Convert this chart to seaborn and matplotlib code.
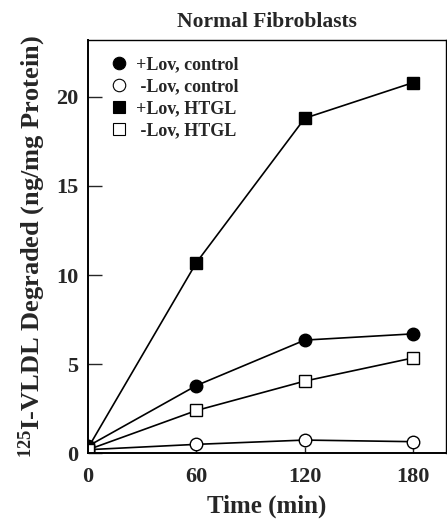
import matplotlib
matplotlib.use('Agg')
import matplotlib.pyplot as plt
import seaborn as sns
from matplotlib.lines import Line2D

time = [0, 60, 120, 180]
lov_control = [0.4, 3.8, 6.35, 6.7]
nolov_control = [0.2, 0.5, 0.74, 0.65]
lov_htgl = [0.3, 10.7, 18.8, 20.8]
nolov_htgl = [0.2, 2.4, 4.05, 5.35]

labels = ['+Lov, control', ' -Lov, control', '+Lov, HTGL', ' -Lov, HTGL']
series = [lov_control, nolov_control, lov_htgl, nolov_htgl]
markers = ['o', 'o', 's', 's']
faces = ['black', 'white', 'black', 'white']

sns.set_style('ticks')
plt.rcParams['font.family'] = ['Liberation Serif', 'DejaVu Serif']
plt.rcParams['font.weight'] = 'bold'
plt.rcParams['mathtext.default'] = 'regular'

fig = plt.figure(figsize=(4.47, 5.24), dpi=100)
ax = fig.add_axes([0.197, 0.135, 0.80, 0.789])

for vals, m, fc in zip(series, markers, faces):
    sns.lineplot(x=time, y=vals, ax=ax, color='black', linewidth=1.2,
                 marker=m, markersize=9, markerfacecolor=fc,
                 markeredgecolor='black', markeredgewidth=1.0)

handles = [Line2D([], [], linestyle='none', marker=m, markersize=9,
                  markerfacecolor=fc, markeredgecolor='black', markeredgewidth=0.8)
           for m, fc in zip(markers, faces)]
leg = ax.legend(handles, labels, loc='upper left', frameon=False,
                prop={'weight': 'bold', 'size': 13}, handletextpad=0.3,
                labelspacing=0.28, borderaxespad=0.5, handlelength=1.2,
                bbox_to_anchor=(0.012, 1.0))

ax.set_xlim(0, 198)
ax.set_ylim(0, 23.2)
ax.set_xticks([0, 60, 120, 180])
ax.set_yticks([0, 5, 10, 15, 20])
ax.tick_params(axis='both', direction='in', labelsize=16, width=1.0)
ax.tick_params(axis='y', length=10, pad=7)
ax.tick_params(axis='x', length=4, pad=10)
for lab in ax.get_xticklabels() + ax.get_yticklabels():
    lab.set_fontweight('bold')
for s in ax.spines.values():
    s.set_color('black')
    s.set_linewidth(1.0)
ax.spines['left'].set_linewidth(1.4)
ax.spines['bottom'].set_linewidth(1.4)

ax.set_title('Normal Fibroblasts', fontsize=15.5, fontweight='bold', pad=9)
ax.set_xlabel('Time (min)', fontsize=18, fontweight='bold', labelpad=5)
ax.set_ylabel('$^{125}$I-VLDL Degraded (ng/mg Protein)', fontsize=19,
              fontweight='bold', labelpad=6)

fig.savefig('out.png', dpi=100)
